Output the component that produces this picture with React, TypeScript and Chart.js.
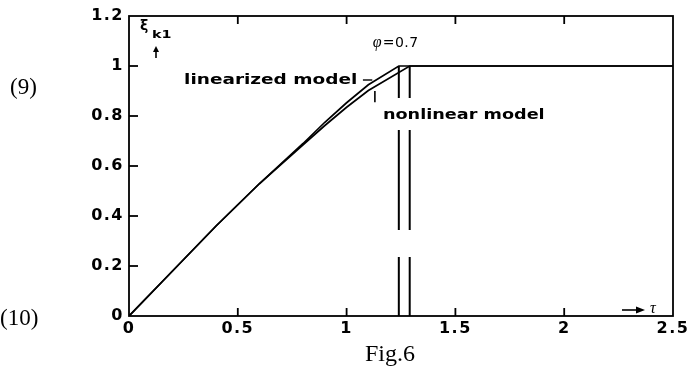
import React, { useEffect, useRef } from "react";
import { Chart, registerables } from "chart.js";

Chart.register(...registerables);

// Normalised time τ and response ξ_k1 of the two models (φ = 0.7)
const linearizedTau = [0, 0.2, 0.4, 0.6, 0.8, 0.9, 1.0, 1.1, 1.24, 2.5];
const linearizedXi = [0, 0.18, 0.36, 0.53, 0.69, 0.775, 0.853, 0.925, 1.0, 1.0];
const nonlinearTau = [0, 0.2, 0.4, 0.6, 0.8, 0.9, 1.0, 1.1, 1.29, 2.5];
const nonlinearXi = [0, 0.18, 0.36, 0.53, 0.685, 0.762, 0.835, 0.902, 1.0, 1.0];

// Vertical markers where each model reaches ξ = 1, drawn as broken segments
const markerTau = [1.24, 1.29];
const markerSpans = [
  [1.0, 0.872],
  [0.744, 0.344],
  [0.236, 0],
];

// Axis ticks
const xTicks = [0, 0.5, 1, 1.5, 2, 2.5];
const yTicks = [0, 0.2, 0.4, 0.6, 0.8, 1, 1.2];

const toPoints = (xs: number[], ys: number[]) => xs.map((x, i) => ({ x, y: ys[i] }));

const markerPoints = (t: number) => {
  const pts: { x: number; y: number | null }[] = [];
  markerSpans.forEach((s, i) => {
    if (i > 0) pts.push({ x: t, y: null });
    pts.push({ x: t, y: s[0] }, { x: t, y: s[1] });
  });
  return pts;
};

const BOLD = "bold 14px 'DejaVu Sans'";

const annotate = {
  id: "annotate",
  beforeDraw(chart: any) {
    chart.ctx.letterSpacing = "1.5px";
  },
  afterDraw(chart: any) {
    const { ctx, chartArea: a, scales } = chart;
    const sx = scales.x;
    const sy = scales.y;
    const X = (v: number) => sx.getPixelForValue(v);
    const Y = (v: number) => sy.getPixelForValue(v);
    ctx.save();
    ctx.letterSpacing = "0px";
    ctx.strokeStyle = "#000";
    ctx.fillStyle = "#000";

    const seg = (x1: number, y1: number, x2: number, y2: number, w = 1.6) => {
      ctx.lineWidth = w;
      ctx.beginPath();
      ctx.moveTo(x1, y1);
      ctx.lineTo(x2, y2);
      ctx.stroke();
    };

    // frame
    ctx.lineWidth = 1.8;
    ctx.strokeRect(a.left, a.top, a.right - a.left, a.bottom - a.top);

    // inward tick marks
    xTicks.slice(1, -1).forEach((v) => {
      const p = X(v);
      seg(p, a.bottom, p, a.bottom - 8, 1.8);
      seg(p, a.top, p, a.top + 8, 1.8);
    });
    yTicks.slice(1, -1).forEach((v) => {
      const p = Y(v);
      seg(a.left, p, a.left + 9, p, 1.8);
    });

    const stretched = (text: string, x: number, y: number, k: number, font: string) => {
      ctx.save();
      ctx.font = font;
      ctx.textAlign = "left";
      ctx.textBaseline = "middle";
      ctx.translate(x, y);
      ctx.scale(k, 1);
      ctx.fillText(text, 0, 0);
      ctx.restore();
    };

    // model labels and their pointers
    stretched("linearized model", X(0.253), Y(0.944), 1.32, BOLD);
    seg(X(1.075), Y(0.944), X(1.118), Y(0.944), 1.4);
    stretched("nonlinear model", X(1.167), Y(0.804), 1.26, BOLD);
    seg(X(1.13), Y(0.9), X(1.13), Y(0.855), 1.6);

    // parameter label φ=0.7
    ctx.font = "italic 16px 'Liberation Serif'";
    ctx.textBaseline = "middle";
    ctx.textAlign = "left";
    ctx.fillText("φ", X(1.12), Y(1.092));
    ctx.font = "14px 'DejaVu Sans'";
    ctx.letterSpacing = "0.5px";
    ctx.fillText("=0.7", X(1.12) + 10, Y(1.092));
    ctx.letterSpacing = "0px";

    // y-axis name ξ_k1 with upward arrow
    ctx.font = "bold 14px 'DejaVu Sans'";
    ctx.fillText("ξ", a.left + 11, a.top + 10);
    stretched("k1", a.left + 23, a.top + 19, 1.3, "bold 11px 'DejaVu Sans'");
    seg(a.left + 27, a.top + 42, a.left + 27, a.top + 34, 1.6);
    ctx.beginPath();
    ctx.moveTo(a.left + 27, a.top + 30);
    ctx.lineTo(a.left + 24, a.top + 36);
    ctx.lineTo(a.left + 30, a.top + 36);
    ctx.closePath();
    ctx.fill();

    // x-axis name → τ
    seg(a.right - 51, a.bottom - 6, a.right - 36, a.bottom - 6, 1.6);
    ctx.beginPath();
    ctx.moveTo(a.right - 28, a.bottom - 6);
    ctx.lineTo(a.right - 37, a.bottom - 9.5);
    ctx.lineTo(a.right - 37, a.bottom - 2.5);
    ctx.closePath();
    ctx.fill();
    ctx.font = "italic 16px 'Liberation Serif'";
    ctx.fillText("τ", a.right - 23, a.bottom - 7);

    // surrounding page text
    ctx.font = "23px 'Liberation Serif'";
    ctx.fillText("(9)", 10, 88);
    ctx.fillText("(10)", 0, 319);
    ctx.font = "24px 'Liberation Serif'";
    ctx.fillText("Fig.6", 365, 355);
    ctx.restore();
  },
};

export default function App() {
  const ref = useRef<HTMLCanvasElement>(null);

  useEffect(() => {
    if (!ref.current) return;
    const line = {
      borderColor: "#000",
      borderWidth: 1.7,
      pointRadius: 0,
      tension: 0,
      fill: false,
    };
    const tickFont = { family: "'DejaVu Sans'", weight: "bold" as const, size: 16 };
    const chart = new Chart(ref.current, {
      type: "line",
      data: {
        datasets: [
          { ...line, label: "linearized model", data: toPoints(linearizedTau, linearizedXi) },
          { ...line, label: "nonlinear model", data: toPoints(nonlinearTau, nonlinearXi) },
          ...markerTau.map((t) => ({
            ...line,
            borderWidth: 2,
            label: "τ = " + t,
            data: markerPoints(t),
            spanGaps: false,
          })),
        ],
      },
      options: {
        animation: false,
        responsive: false,
        devicePixelRatio: 1,
        layout: { padding: { top: 16, right: 21, left: 0, bottom: 0 } },
        plugins: { legend: { display: false }, tooltip: { enabled: false } },
        scales: {
          x: {
            type: "linear",
            min: 0,
            max: 2.5,
            grid: { display: false, drawTicks: false },
            border: { display: false },
            afterBuildTicks: (s: any) => {
              s.ticks = xTicks.map((v) => ({ value: v }));
            },
            afterFit: (s: any) => {
              s.height = 52;
            },
            ticks: {
              color: "#000",
              padding: 3,
              maxRotation: 0,
              font: tickFont,
              callback: (v: any) => String(v),
            },
          },
          y: {
            type: "linear",
            min: 0,
            max: 1.2,
            grid: { display: false, drawTicks: false },
            border: { display: false },
            afterBuildTicks: (s: any) => {
              s.ticks = yTicks.map((v) => ({ value: v }));
            },
            afterFit: (s: any) => {
              s.width = 129;
            },
            ticks: {
              color: "#000",
              padding: 5,
              font: tickFont,
              callback: (v: any) => String(Math.round(v * 10) / 10),
            },
          },
        },
      },
      plugins: [annotate],
    });
    return () => chart.destroy();
  }, []);

  return (
    <div style={{ position: "fixed", left: 0, top: 0, width: 694, height: 368, background: "#fff" }}>
      <canvas ref={ref} width={694} height={368} style={{ display: "block" }} />
    </div>
  );
}
